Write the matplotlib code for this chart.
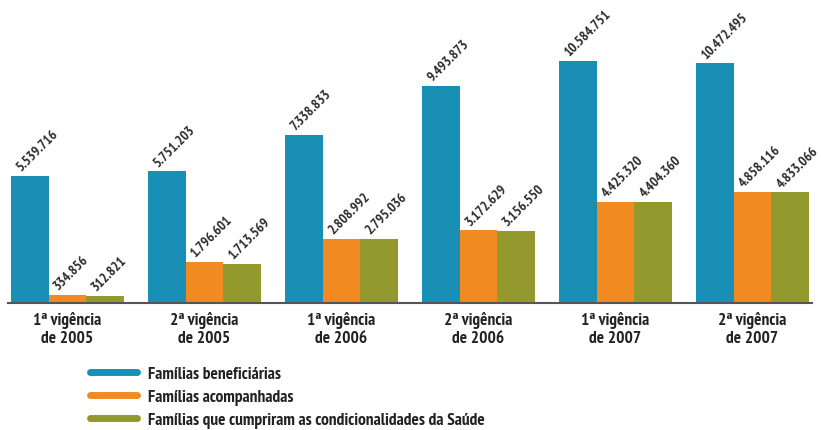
import numpy as np
import matplotlib
matplotlib.use('Agg')
import matplotlib.pyplot as plt
from matplotlib.lines import Line2D
from matplotlib import font_manager

# pick a condensed font close to the original (Myriad Condensed-like)
names = set(f.name for f in font_manager.fontManager.ttflist)
fam = 'DejaVu Sans'
for cand in ['PT Sans Narrow', 'Roboto Condensed', 'Fira Sans Condensed',
             'Open Sans Condensed', 'Liberation Sans Narrow']:
    if cand in names:
        fam = cand
        break
plt.rcParams['font.family'] = [fam, 'DejaVu Sans']

categories = ['1ª vigência\nde 2005', '2ª vigência\nde 2005',
              '1ª vigência\nde 2006', '2ª vigência\nde 2006',
              '1ª vigência\nde 2007', '2ª vigência\nde 2007']
beneficiarias = [5539716, 5751203, 7338833, 9493873, 10584751, 10472495]
acompanhadas = [334856, 1796601, 2808992, 3172629, 4425320, 4858116]
cumpriram = [312821, 1713569, 2795036, 3156550, 4404360, 4833066]
series_names = ['Famílias beneficiárias', 'Famílias acompanhadas',
                'Famílias que cumpriram as condicionalidades da Saúde']
colors = ['#1a8fb5', '#f28a22', '#94992e']

def fmt(v):
    return f'{v:,}'.replace(',', '.')

fig = plt.figure(figsize=(8.21, 4.31), dpi=100)
ax = fig.add_axes([8/821, 127/431, 804/821, 304/431])

x = np.arange(len(categories))
w = 0.275
for k, (vals, c) in enumerate(zip([beneficiarias, acompanhadas, cumpriram], colors)):
    pos = x + (k - 1) * w
    ax.bar(pos, vals, width=w, color=c, linewidth=0)
    for p, v in zip(pos, vals):
        ax.annotate(fmt(v), (p - w * 0.18, v), xytext=(0, 2), textcoords='offset points',
                    rotation=45, rotation_mode='anchor', ha='left', va='bottom',
                    fontsize=10, fontweight='bold', color='#2a2a2a')

ax.set_xlim(-0.434, len(categories) - 1 + 0.434)
ax.set_ylim(0, 13.29e6)
ax.set_xticks(x)
ax.set_xticklabels(categories, fontsize=12.5, fontweight='bold', color='#222222', linespacing=1.1)
ax.tick_params(axis='x', length=0, pad=6)
ax.set_yticks([])
for s in ['top', 'right', 'left']:
    ax.spines[s].set_visible(False)
ax.spines['bottom'].set_color('#555555')
ax.spines['bottom'].set_linewidth(1.5)

handles = [Line2D([], [], color=c, lw=5, solid_capstyle='round') for c in colors]
fig.legend(handles, series_names, loc='upper left', bbox_to_anchor=(90/821, 1 - 367/431),
           frameon=False, prop={'size': 12.5, 'weight': 'bold'}, handlelength=2.7,
           handletextpad=0.63, labelspacing=0.4, borderaxespad=0, borderpad=0,
           labelcolor='#222222')

fig.savefig('out.png', dpi=100)
